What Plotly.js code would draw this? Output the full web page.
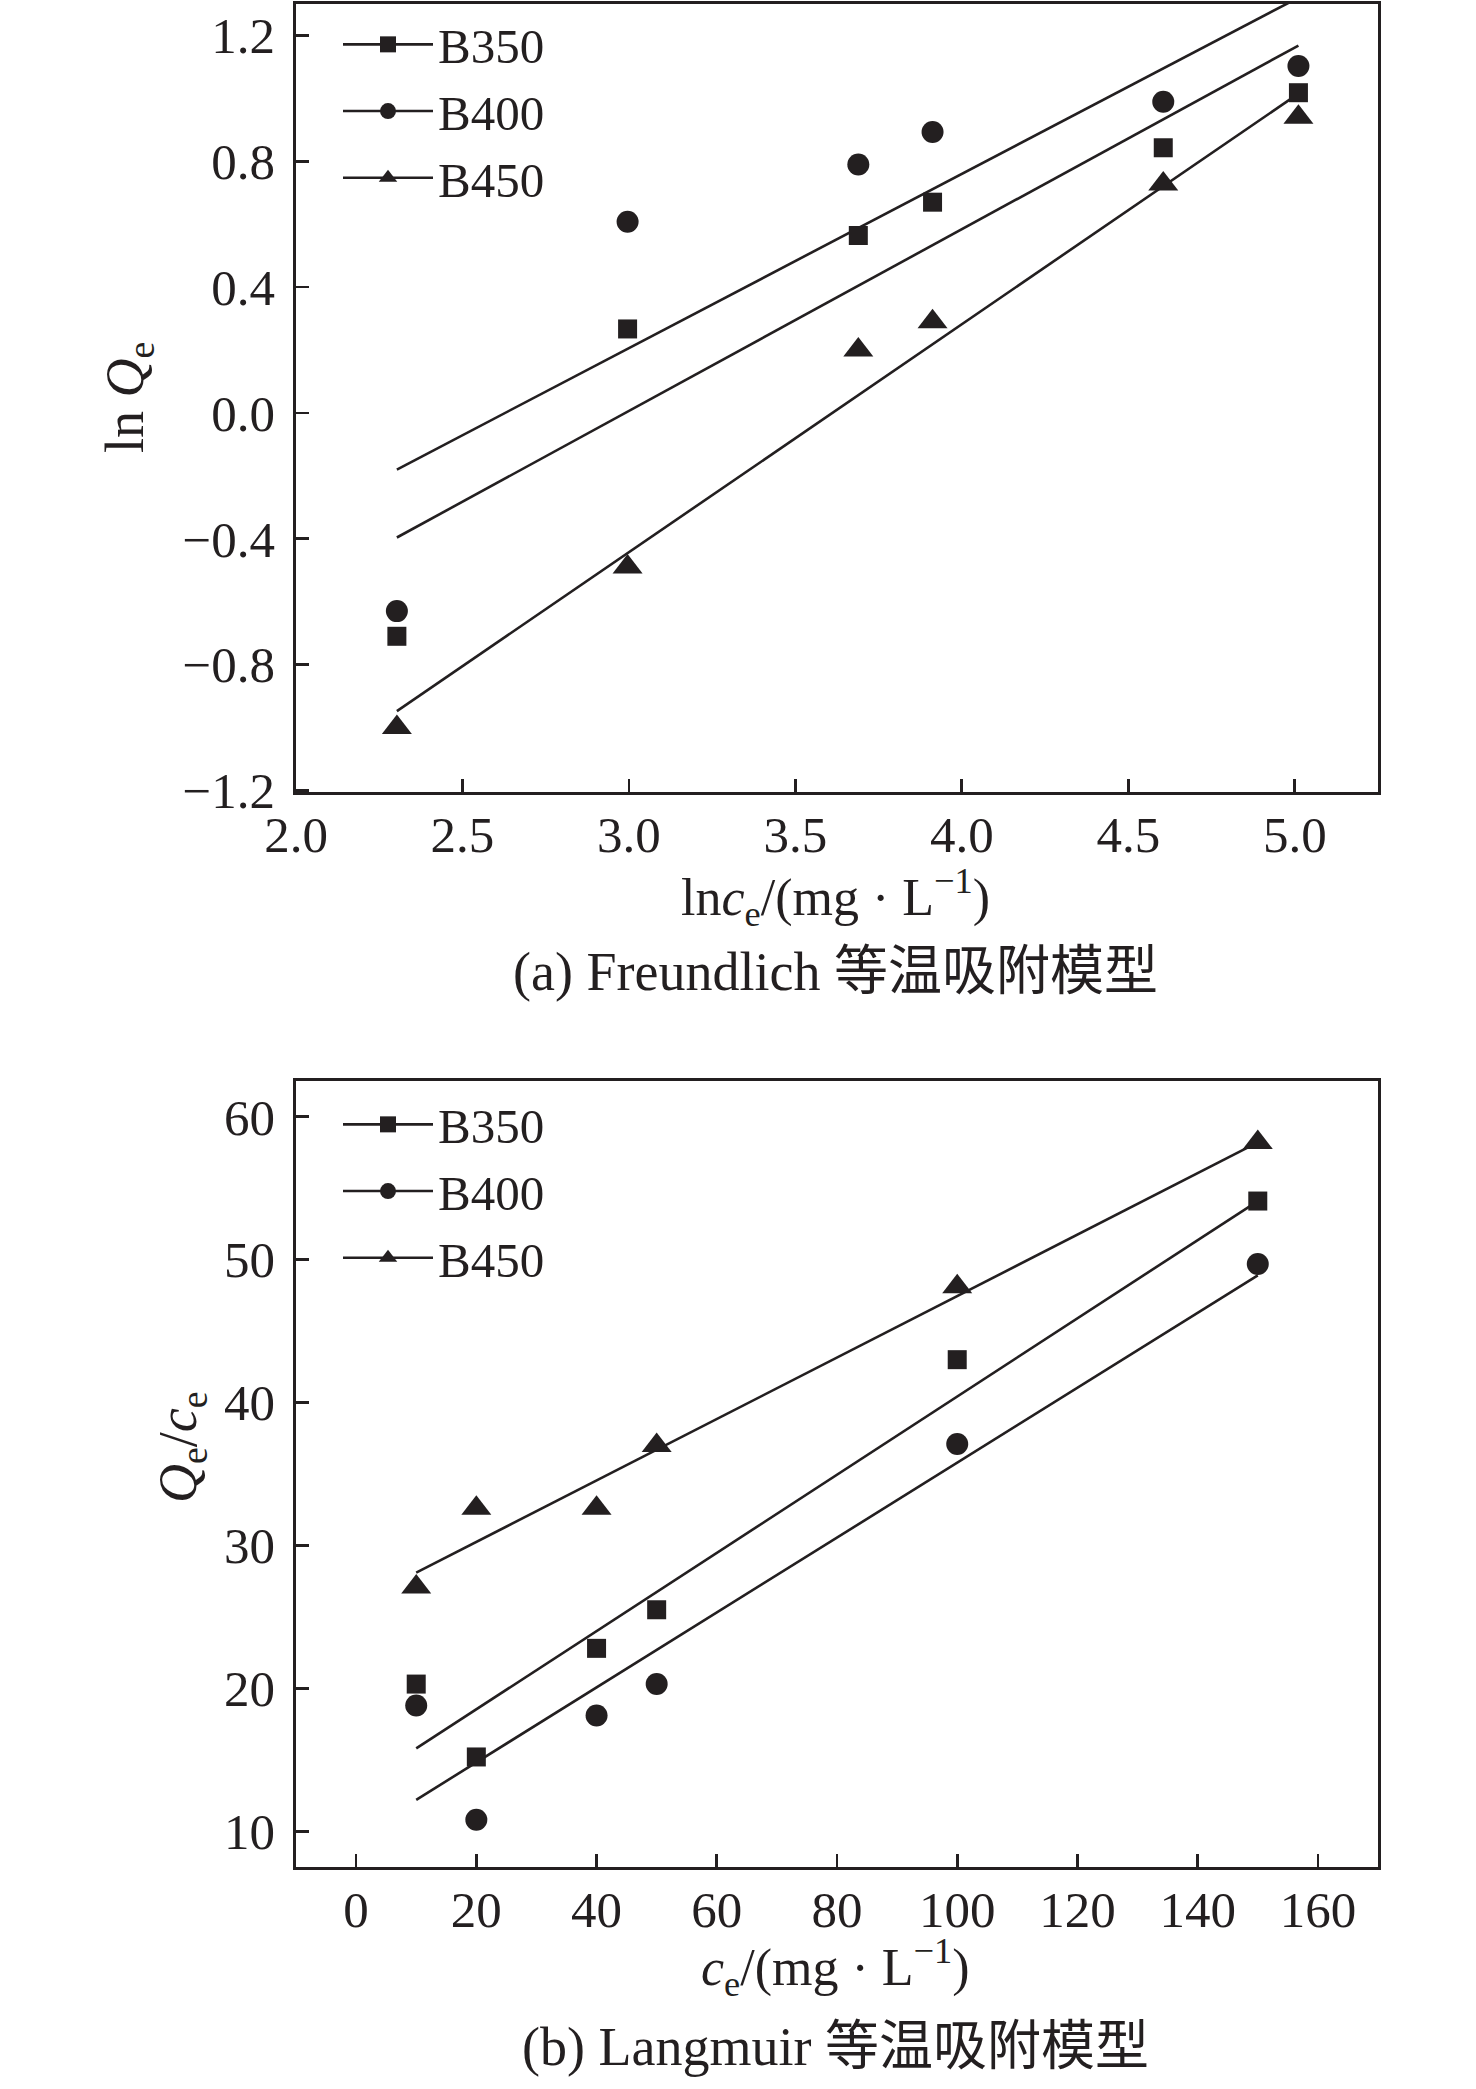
<!DOCTYPE html>
<html>
<head>
<meta charset="utf-8">
<script src="https://cdn.plot.ly/plotly-3.0.1.min.js"></script>
<style>
  body { margin: 0; background: #fff; }
  #chart { width: 1476px; height: 2089px; }
</style>
</head>
<body>
<div id="chart"></div>
<script>
// (a) Freundlich: ln ce vs ln Qe
const freundX = [2.303, 2.996, 3.689, 3.912, 4.605, 5.011];
const freundB350 = [-0.71, 0.267, 0.564, 0.67, 0.843, 1.018];
const freundB400 = [-0.63, 0.608, 0.79, 0.893, 0.989, 1.103];
const freundB450 = [-1.0, -0.49, 0.2, 0.29, 0.728, 0.94];
const freundFitX = [2.303, 5.011];
const freundFit350 = [-0.396, 1.168];
const freundFit400 = [-0.18, 1.32];
const freundFit450 = [-0.948, 1.015];

// (b) Langmuir: ce vs Qe/ce
const langX = [10, 20, 40, 50, 100, 150];
const langB350 = [20.3, 15.2, 22.8, 25.5, 43.0, 54.1];
const langB400 = [18.8, 10.8, 18.1, 20.3, 37.1, 49.7];
const langB450 = [27.1, 32.6, 32.6, 37.0, 48.1, 58.2];
const langFitX = [10, 150];
const langFit350 = [15.8, 54.1];
const langFit400 = [12.2, 48.9];
const langFit450 = [28.1, 58.2];

const seriesNames = ["B350", "B400", "B450"];
const symbols = ["square", "circle", "triangle-up"];
const markerSizes = [19, 22, 26];

const W = 1476, H = 2089;
const ink = "#231f20";
const serif = "'Liberation Serif', 'Times New Roman', serif";
const capFont = "'Liberation Serif', 'Noto Sans CJK SC', serif";

// put a gap between points so the legend shows line + marker but no line joins the data
function gapped(arr) {
  const out = [];
  arr.forEach((v, i) => { if (i) out.push(null); out.push(v); });
  return out;
}

function pointTraces(xs, ys, xa, ya, legend) {
  return ys.map((y, i) => ({
    type: "scatter",
    mode: "lines+markers",
    connectgaps: false,
    x: gapped(xs),
    y: gapped(y),
    xaxis: xa, yaxis: ya,
    name: seriesNames[i],
    legend,
    line: { color: ink, width: 2.6 },
    marker: { symbol: symbols[i], size: markerSizes[i], color: ink },
    cliponaxis: false,
  }));
}

function fitTraces(xs, ys, xa, ya) {
  return ys.map(y => ({
    type: "scatter",
    mode: "lines",
    x: xs, y,
    xaxis: xa, yaxis: ya,
    showlegend: false,
    line: { color: ink, width: 2.6 },
  }));
}

const data = [
  ...fitTraces(freundFitX, [freundFit350, freundFit400, freundFit450], "x", "y"),
  ...pointTraces(freundX, [freundB350, freundB400, freundB450], "x", "y", "legend"),
  ...fitTraces(langFitX, [langFit350, langFit400, langFit450], "x2", "y2"),
  ...pointTraces(langX, [langB350, langB400, langB450], "x2", "y2", "legend2"),
];

const axisBase = {
  showline: true, mirror: true, linecolor: ink, linewidth: 2.7,
  ticks: "inside", ticklen: 13, tickwidth: 2.7, tickcolor: ink,
  showgrid: false, zeroline: false,
  tickfont: { family: serif, size: 51, color: ink },
};
const xAxisBase = { ...axisBase, ticklabelstandoff: -4 };
const yAxisBase = { ...axisBase, ticklabelstandoff: 8 };

const xDom = [296 / W, 1378 / W];

function ann(text, px, py, size, angle, font) {
  return {
    text, x: px / W, y: 1 - py / H, xref: "paper", yref: "paper",
    xanchor: "center", yanchor: "middle", showarrow: false,
    textangle: angle || 0,
    font: { family: font || serif, size, color: ink },
  };
}

const legendBase = {
  xanchor: "left", yanchor: "top", bgcolor: "rgba(0,0,0,0)",
  font: { family: serif, size: 49, color: ink }, tracegroupgap: 0,
  itemwidth: 90,
};

const layout = {
  width: W, height: H,
  margin: { l: 0, r: 0, t: 0, b: 0, pad: 0 },
  paper_bgcolor: "#fff", plot_bgcolor: "#fff",
  xaxis: { ...xAxisBase, domain: xDom, anchor: "y", range: [2, 5.25], dtick: 0.5, tick0: 2, tickformat: ".1f" },
  yaxis: { ...yAxisBase, domain: [1 - 792 / H, 1 - 4 / H], anchor: "x", range: [-1.205, 1.3], dtick: 0.4, tick0: -1.2, tickformat: ".1f" },
  xaxis2: { ...xAxisBase, domain: xDom, anchor: "y2", range: [-10, 170], dtick: 20, tick0: 0 },
  yaxis2: { ...yAxisBase, domain: [1 - 1867 / H, 1 - 1081 / H], anchor: "x2", range: [7.5, 62.5], dtick: 10, tick0: 10 },
  legend: { ...legendBase, x: 338 / W, y: 1 - 6 / H },
  legend2: { ...legendBase, x: 338 / W, y: 1 - 1086 / H },
  annotations: [
    ann("ln <i>Q</i><sub>e</sub>", 128, 398, 54, -90),
    ann("ln<i>c</i><sub>e</sub>/(mg · L<sup>−1</sup>)", 835, 897, 52),
    ann("(a) Freundlich 等温吸附模型", 835, 972, 54, 0, capFont),
    ann("<i>Q</i><sub>e</sub>/<i>c</i><sub>e</sub>", 181, 1447, 54, -90),
    ann("<i>c</i><sub>e</sub>/(mg · L<sup>−1</sup>)", 835, 1967, 52),
    ann("(b) Langmuir 等温吸附模型", 835, 2047, 54, 0, capFont),
  ],
};

Plotly.newPlot("chart", data, layout, { staticPlot: true, displayModeBar: false });
</script>
</body>
</html>
